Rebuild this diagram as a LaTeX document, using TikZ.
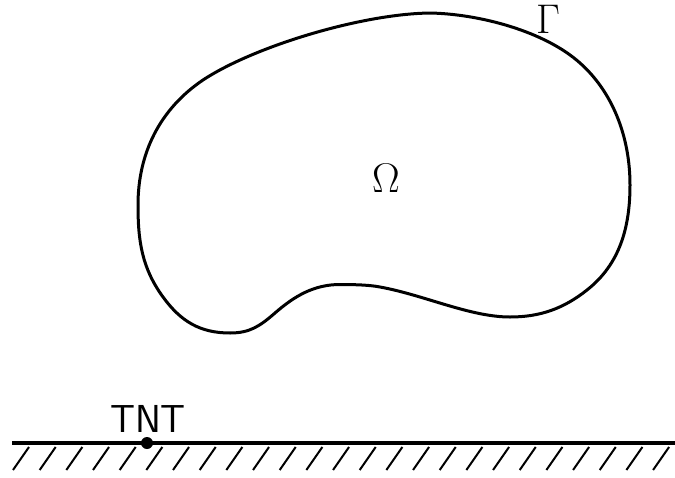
\documentclass[tikz,border=0pt]{standalone}
\tikzset{
  lbl/.style={font=\fontsize{19.5}{22}\selectfont, inner sep=0pt},
}
\begin{document}
\begin{tikzpicture}[x=0.5pt,y=-0.5pt]
  \useasboundingbox (0,0) rectangle (675,477);
  % the domain
  \draw[line width=1.5pt] (138,205)
    .. controls (138,153) and (160,109) .. (203,80)
    .. controls (253,47) and (360,14) .. (430,13)
    .. controls (480,14) and (545,31.5) .. (580,63)
    .. controls (611.5,91) and (630,135) .. (630,185)
    .. controls (630,227) and (620,264) .. (587,290)
    .. controls (563.6,308.6) and (540,317) .. (510,317)
    .. controls (470,317) and (424,295) .. (380,287)
    .. controls (370,285) and (355,284.5) .. (340,284.5)
    .. controls (314,284.5) and (294.5,296) .. (275,313)
    .. controls (260,326) and (250,333) .. (230,333)
    .. controls (200,333) and (180.7,321.3) .. (163,297)
    .. controls (141.8,267.8) and (138,241) .. cycle;
  \node[lbl] (omega) at (386,178) {$\Omega$};
  \node[lbl] (gamma) at (548,19) {$\Gamma$};
  % ground
  \coordinate (gl) at (12,443);
  \coordinate (gr) at (675,443);
  \draw[line width=2pt] (gl) -- (gr);
  \foreach \i in {0,...,24}
    \draw[line width=1pt] (13+26.67*\i,470) -- ++(16,-23);
  \node[circle, fill, inner sep=0pt, minimum size=6pt] (tnt) at (147,443) {};
  \node[lbl] (tntlabel) at (148,419) {\textsf{TNT}};
\end{tikzpicture}
\end{document}
